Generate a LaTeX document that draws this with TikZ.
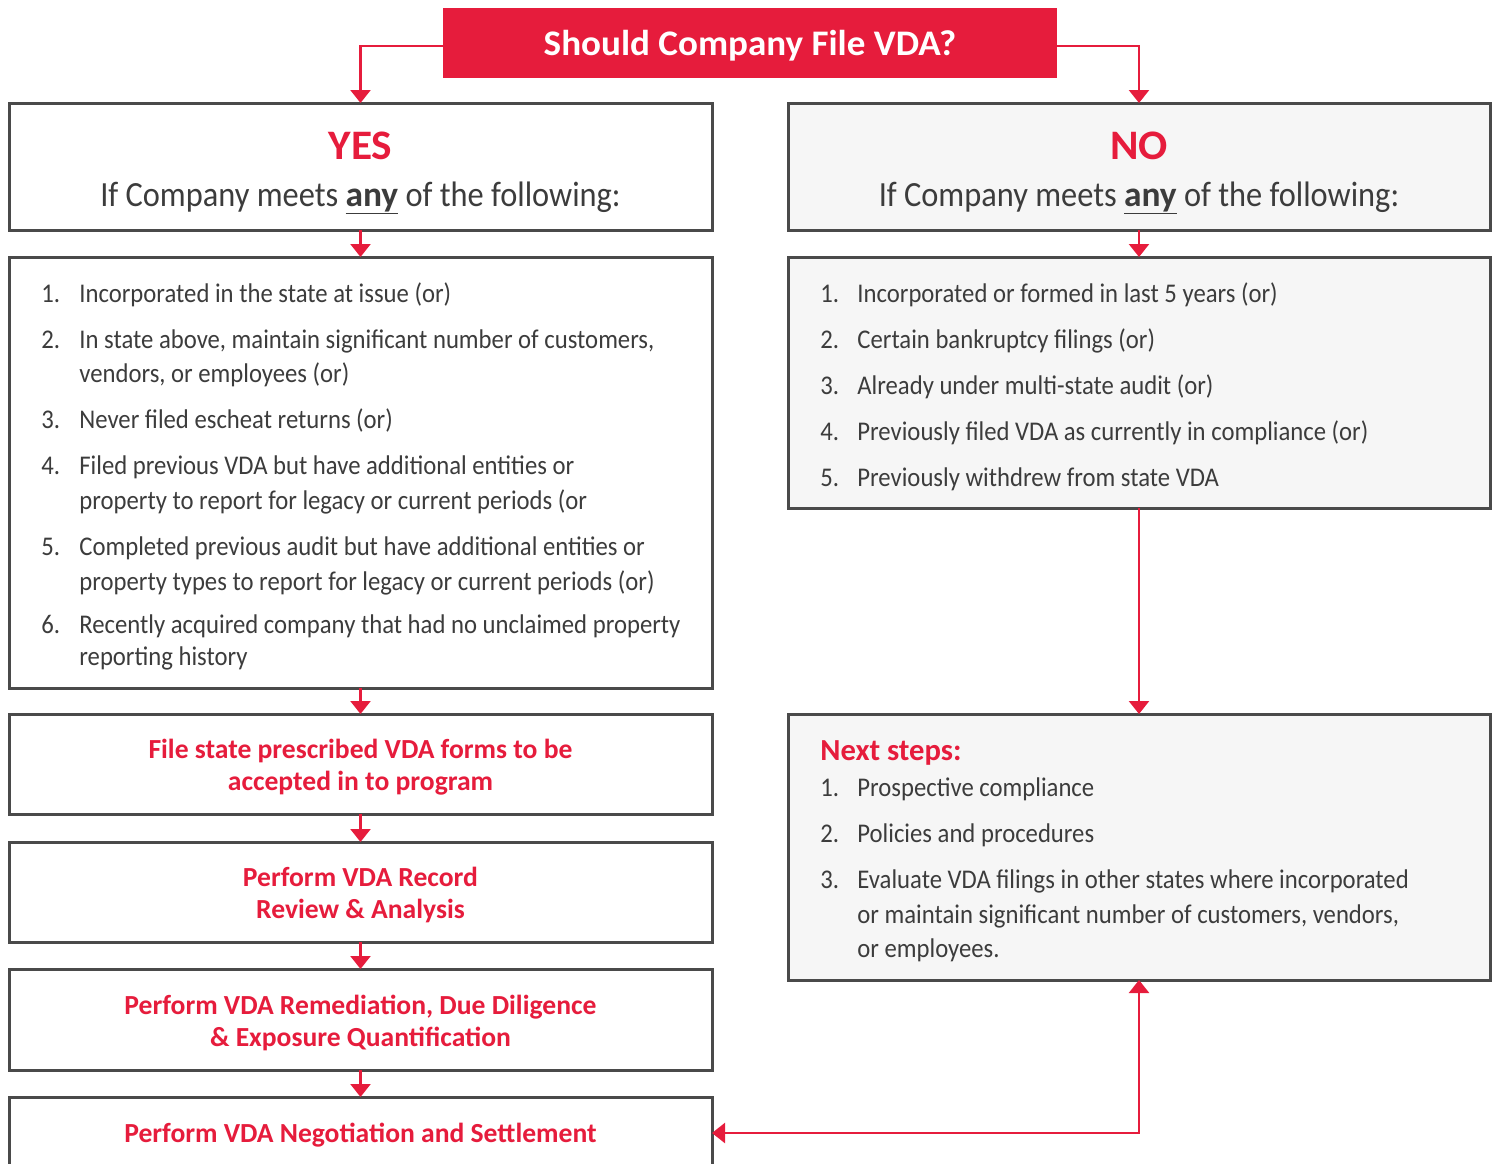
\documentclass[tikz,border=0pt]{standalone}
\usepackage{fontspec}
\setmainfont{Carlito}[FakeStretch=0.915, BoldFeatures={FakeStretch=1.0}]
\newfontfamily\widebold{Carlito}[FakeStretch=1.03, UprightFont={* Bold}]
\usetikzlibrary{arrows.meta}
\definecolor{vred}{HTML}{E61C3C}
\definecolor{bord}{HTML}{4A4A4A}
\definecolor{txtc}{HTML}{3C3C3C}
\definecolor{lgray}{HTML}{F6F6F6}
\newcommand\myulany{\setbox0\hbox{\textbf{any}}\rlap{\textbf{any}}\rule[-4.2pt]{\wd0}{0.9pt}}
\tikzset{
  bx/.style 2 args={draw=bord, line width=1.5pt, inner sep=0pt, outer sep=0pt,
     minimum width=#1*0.5pt, minimum height=#2*0.5pt},
  gbx/.style={fill=lgray},
  wbx/.style={fill=white},
  arr/.style={draw=vred, line width=1.2pt, -{Triangle[width=10pt,length=6.5pt]}},
  darr/.style={draw=vred, line width=1.2pt, {Triangle[width=10pt,length=6.5pt]}-{Triangle[width=10pt,length=6.5pt]}},
  lt/.style={anchor=base west, inner sep=0pt, text=txtc, font=\fontsize{13.5}{16}\selectfont},
  rt/.style={align=center, text=vred, font=\fontsize{13.8}{16}\selectfont\bfseries},
  hd/.style={text=vred, font=\fontsize{21}{24}\selectfont\widebold},
  sub/.style={text=txtc, font=\fontsize{17.7}{20}\selectfont, anchor=base},
}
\begin{document}
\begin{tikzpicture}[x=0.5pt,y=-0.5pt]
\useasboundingbox (0,0) rectangle (1499,1163);
% title
\node[fill=vred, inner sep=0pt, minimum width=307pt, minimum height=35pt] (title) at (750,43) {};
\node[text=white, font=\fontsize{18}{20}\selectfont\widebold] (titlet) at (750,46) {Should Company File VDA?};
% yes / no headers
\node[bx={703}{127}, wbx] (yes) at (360.5,166.5) {};
\node[bx={702}{127}, gbx] (no) at (1139,166.5) {};
\node[hd] (yest) at (360.5,146) {YES};
\node[hd] (not) at (1139,146) {NO};
\node[sub] (yess) at (360.5,206) {If Company meets \myulany{} of the following:};
\node[sub] (nos) at (1139,206) {If Company meets \myulany{} of the following:};
% lists
\node[bx={703}{431}, wbx] (ylist) at (360.5,472.5) {};
\node[bx={702}{251}, gbx] (nlist) at (1139,382.5) {};
% left list
\node[lt] (y1n) at (41,302) {1.};
\node[lt] (y1t) at (79,302) {Incorporated in the state at issue (or)};
\node[lt] (y2n) at (41,348) {2.};
\node[lt] (y2t) at (79,348) {In state above, maintain significant number of customers,};
\node[lt] (y2u) at (79,382) {vendors, or employees (or)};
\node[lt] (y3n) at (41,428) {3.};
\node[lt] (y3t) at (79,428) {Never filed escheat returns (or)};
\node[lt] (y4n) at (41,474) {4.};
\node[lt] (y4t) at (79,474) {Filed previous VDA but have additional entities or};
\node[lt] (y4u) at (79,509) {property to report for legacy or current periods (or};
\node[lt] (y5n) at (41,555) {5.};
\node[lt] (y5t) at (79,555) {Completed previous audit but have additional entities or};
\node[lt] (y5u) at (79,590) {property types to report for legacy or current periods (or)};
\node[lt] (y6n) at (41,633) {6.};
\node[lt] (y6t) at (79,633) {Recently acquired company that had no unclaimed property};
\node[lt] (y6u) at (79,665) {reporting history};
% right list
\node[lt] (n1n) at (820,302) {1.};
\node[lt] (n1t) at (857,302) {Incorporated or formed in last 5 years (or)};
\node[lt] (n2n) at (820,348) {2.};
\node[lt] (n2t) at (857,348) {Certain bankruptcy filings (or)};
\node[lt] (n3n) at (820,394) {3.};
\node[lt] (n3t) at (857,394) {Already under multi-state audit (or)};
\node[lt] (n4n) at (820,440) {4.};
\node[lt] (n4t) at (857,440) {Previously filed VDA as currently in compliance (or)};
\node[lt] (n5n) at (820,486) {5.};
\node[lt] (n5t) at (857,486) {Previously withdrew from state VDA};
% left steps
\node[bx={703}{100}, wbx] (s1) at (360.5,764) {};
\node[rt] (s1t) at (360.5,767) {File state prescribed VDA forms to be\\accepted in to program};
\node[bx={703}{100}, wbx] (s2) at (360.5,892) {};
\node[rt] (s2t) at (360.5,895) {Perform VDA Record\\Review \& Analysis};
\node[bx={703}{101}, wbx] (s3) at (360.5,1019.5) {};
\node[rt] (s3t) at (360.5,1023) {Perform VDA Remediation, Due Diligence\\\& Exposure Quantification};
\node[bx={703}{72}, wbx] (s4) at (360.5,1133) {};
\node[rt] (s4t) at (360.5,1135) {Perform VDA Negotiation and Settlement};
% next steps
\node[bx={702}{266}, gbx] (next) at (1139,847) {};
\node[anchor=base west, inner sep=0pt, text=vred, font=\fontsize{15.3}{16}\selectfont\bfseries] (nxh) at (820,760) {Next steps:};
\node[lt] (x1n) at (820,796) {1.};
\node[lt] (x1t) at (857,796) {Prospective compliance};
\node[lt] (x2n) at (820,842) {2.};
\node[lt] (x2t) at (857,842) {Policies and procedures};
\node[lt] (x3n) at (820,888) {3.};
\node[lt] (x3t) at (857,888) {Evaluate VDA filings in other states where incorporated};
\node[lt] (x3u) at (857,923) {or maintain significant number of customers, vendors,};
\node[lt] (x3v) at (857,957) {or employees.};
% connectors
\draw[arr] ([yshift=-1.5pt]title.west) -| (yes.north);
\draw[arr] ([yshift=-1.5pt]title.east) -| (no.north);
\draw[arr] (yes.south) -- (ylist.north);
\draw[arr] (no.south) -- (nlist.north);
\draw[arr] (ylist.south) -- (s1.north);
\draw[arr] (s1.south) -- (s2.north);
\draw[arr] (s2.south) -- (s3.north);
\draw[arr] (s3.south) -- (s4.north);
\draw[arr] (nlist.south) -- (next.north);
\draw[darr] (s4.east) -| (next.south);
\end{tikzpicture}
\end{document}
